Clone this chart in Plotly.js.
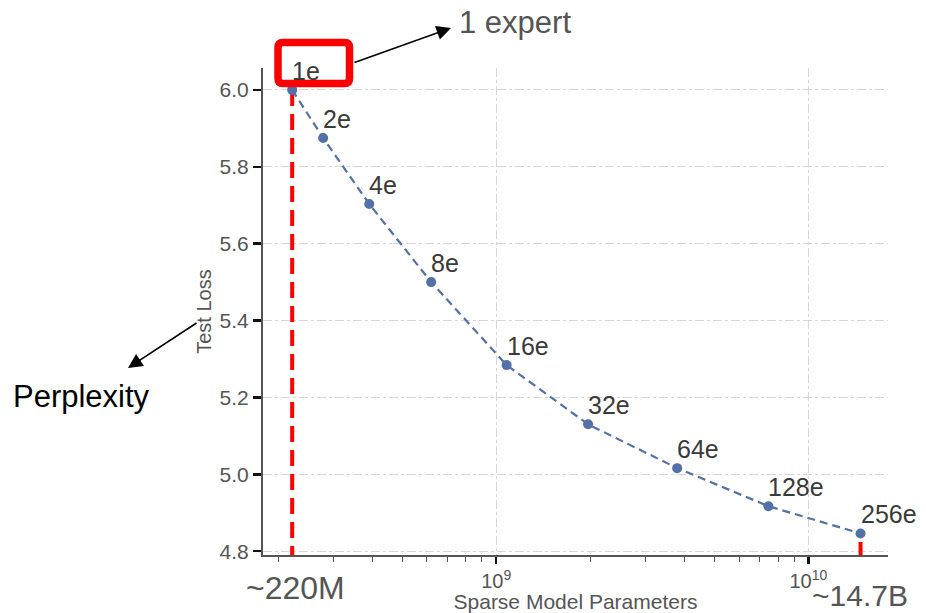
<!DOCTYPE html>
<html>
<head>
<meta charset="utf-8">
<script src="https://cdn.plot.ly/plotly-3.0.1.min.js"></script>
<style>html,body{margin:0;padding:0;background:#fff;}#chart{width:926px;height:613px;}</style>
</head>
<body>
<div id="chart"></div>
<script>
// Data
const experts = ['1e','2e','4e','8e','16e','32e','64e','128e','256e'];
const params = [2.22e8, 2.79e8, 3.92e8, 6.19e8, 1.08e9, 1.97e9, 3.8e9, 7.45e9, 1.47e10];
const testLoss = [6.0, 5.875, 5.703, 5.5, 5.284, 5.13, 5.016, 4.917, 4.846];
const yTicks = [4.8, 5.0, 5.2, 5.4, 5.6, 5.8, 6.0];
const xTickVals = [1e9, 1e10];
const xTickText = ['10<sup>9</sup>', '10<sup>10</sup>'];
const xMinorVals = [2e8,3e8,4e8,5e8,6e8,7e8,8e8,9e8,2e9,3e9,4e9,5e9,6e9,7e9,8e9,9e9];
const yMin = 4.79, yMax = 6.057;

const FONT = 'Liberation Sans, Arial, Helvetica, sans-serif';
const L = 263, R = 888, T = 68, B = 555;
const W = R - L, H = B - T;
const px = x => (x - L) / W;
const py = y => (B - y) / H;

const traces = [
  {
    x: [params[0], params[0]], y: [testLoss[0], yMin],
    mode: 'lines', line: {color: '#ff0000', width: 4, dash: '16px,8px'},
    hoverinfo: 'skip', showlegend: false
  },
  {
    x: [params[params.length-1], params[params.length-1]], y: [testLoss[testLoss.length-1] - 0.022, yMin],
    mode: 'lines', line: {color: '#ff0000', width: 4},
    hoverinfo: 'skip', showlegend: false
  },
  {
    x: params, y: testLoss,
    mode: 'lines+markers',
    line: {color: '#5470a8', width: 2.2, dash: '8px,5px'},
    marker: {color: '#5470a8', size: 10},
    cliponaxis: false,
    showlegend: false
  }
];

const pointLabels = experts.map((t, i) => ({
  xref: 'x', yref: 'y', x: Math.log10(params[i]), y: testLoss[i],
  xanchor: 'left', yanchor: 'bottom', xshift: -2, yshift: 3,
  text: t, showarrow: false,
  font: {family: FONT, size: 25, color: '#3a3a3a'}
}));

// rounded rectangle path in paper coords
function roundRect(x0, y0, x1, y1, r) {
  const rx = r / W, ry = r / H;
  const X0 = px(x0), X1 = px(x1), Y0 = py(y0), Y1 = py(y1);
  return `M${X0+rx},${Y0} L${X1-rx},${Y0} Q${X1},${Y0} ${X1},${Y0-ry} L${X1},${Y1+ry} Q${X1},${Y1} ${X1-rx},${Y1} L${X0+rx},${Y1} Q${X0},${Y1} ${X0},${Y1+ry} L${X0},${Y0-ry} Q${X0},${Y0} ${X0+rx},${Y0} Z`;
}

const layout = {
  width: 926, height: 613,
  margin: {l: L, r: 926 - R, t: T, b: 613 - B, pad: 0},
  paper_bgcolor: '#fff', plot_bgcolor: '#fff',
  font: {family: FONT, color: '#555'},
  showlegend: false,
  xaxis: {
    type: 'log',
    range: [Math.log10(1.79e8), Math.log10(1.8e10)],
    tickmode: 'array', tickvals: xTickVals, ticktext: xTickText,
    ticks: 'outside', ticklen: 7, tickwidth: 2.5, tickcolor: '#111',
    tickfont: {family: FONT, size: 20, color: '#555'},
    showline: true, linecolor: '#555', linewidth: 2,
    showgrid: true, gridcolor: '#d6d6d6', griddash: 'dashdot', gridwidth: 1,
    minor: {tickmode: 'array', tickvals: xMinorVals, ticks: 'outside', ticklen: 5, tickwidth: 1, tickcolor: '#555', showgrid: false},
    zeroline: false,
    title: {text: 'Sparse Model Parameters', font: {family: FONT, size: 21, color: '#555'}, standoff: 3}
  },
  yaxis: {
    range: [yMin, yMax],
    tickmode: 'array', tickvals: yTicks, tickformat: '.1f',
    ticks: 'outside', ticklen: 8, tickwidth: 2.5, tickcolor: '#111',
    tickfont: {family: FONT, size: 21, color: '#555'},
    showline: true, linecolor: '#555', linewidth: 2,
    showgrid: true, gridcolor: '#d6d6d6', griddash: 'dashdot', gridwidth: 1,
    zeroline: false,
    title: {text: 'Test Loss', font: {family: FONT, size: 20, color: '#555'}, standoff: 3}
  },
  shapes: [
    {type: 'path', xref: 'paper', yref: 'paper', path: roundRect(278, 42.5, 349.5, 83.5, 5),
     line: {color: '#ff0000', width: 7.5}, fillcolor: 'rgba(0,0,0,0)'}
  ],
  annotations: pointLabels.concat([
    {xref: 'paper', yref: 'paper', x: px(451), y: py(28), ax: 353 - 451, ay: 63 - 28,
     text: '', showarrow: true, arrowhead: 2, arrowsize: 1.8, arrowwidth: 1.6, arrowcolor: '#000'},
    {xref: 'paper', yref: 'paper', x: px(128), y: py(368), ax: 198 - 128, ay: 322 - 368,
     text: '', showarrow: true, arrowhead: 2, arrowsize: 1.8, arrowwidth: 1.6, arrowcolor: '#000'},
    {xref: 'paper', yref: 'paper', x: px(457), y: py(22), xanchor: 'left', yanchor: 'middle',
     text: '1 expert', showarrow: false, font: {family: FONT, size: 31, color: '#555'}},
    {xref: 'paper', yref: 'paper', x: px(11), y: py(396), xanchor: 'left', yanchor: 'middle',
     text: 'Perplexity', showarrow: false, font: {family: FONT, size: 31, color: '#000'}},
    {xref: 'paper', yref: 'paper', x: px(295), y: py(588), xanchor: 'center', yanchor: 'middle',
     text: '~220M', showarrow: false, font: {family: FONT, size: 32, color: '#555'}},
    {xref: 'paper', yref: 'paper', x: px(860), y: py(595), xanchor: 'center', yanchor: 'middle',
     text: '~14.7B', showarrow: false, font: {family: FONT, size: 30, color: '#555'}}
  ])
};

Plotly.newPlot('chart', traces, layout, {displayModeBar: false, staticPlot: true});
</script>
</body>
</html>
